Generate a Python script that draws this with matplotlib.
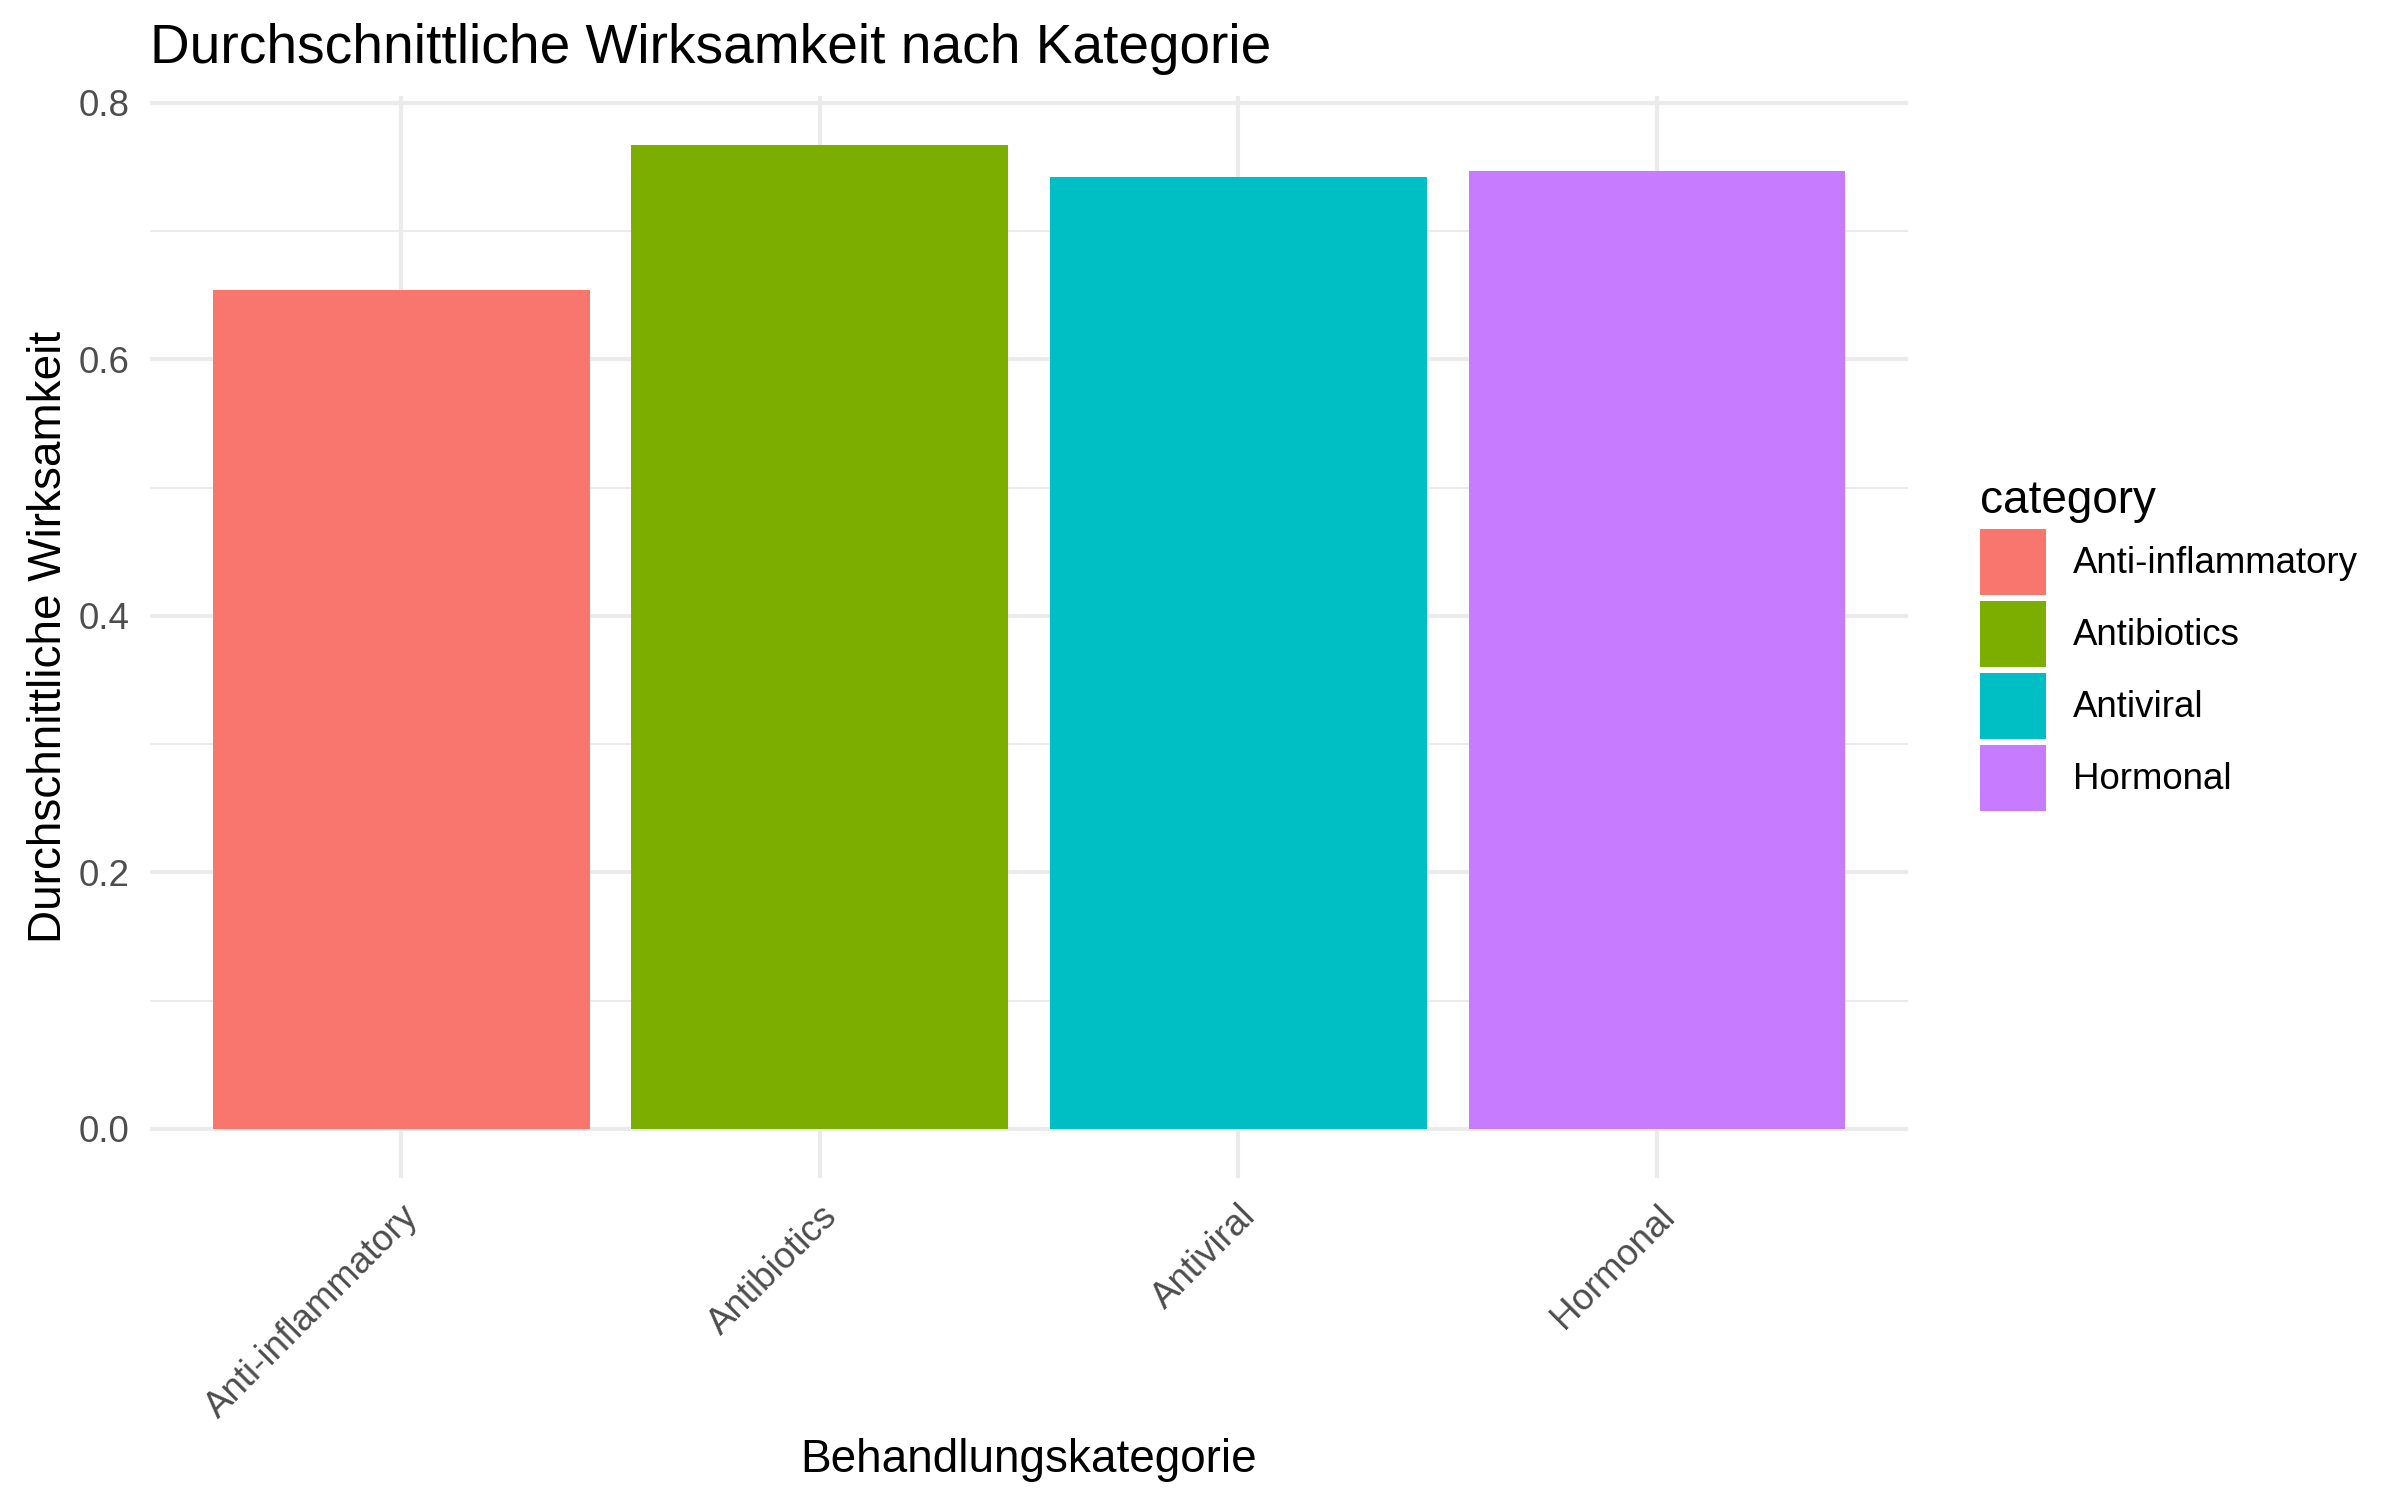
import matplotlib
matplotlib.use("Agg")
from matplotlib import pyplot as plt
from matplotlib.ticker import MultipleLocator

plt.rcParams['font.family'] = ['Liberation Sans', 'DejaVu Sans']

# data
categories = ["Anti-inflammatory", "Antibiotics", "Antiviral", "Hormonal"]
efficacy = [0.654, 0.767, 0.742, 0.747]
colors = ["#F8766D", "#7CAE00", "#00BFC4", "#C77CFF"]
y_ticks = [0.0, 0.2, 0.4, 0.6, 0.8]

fig = plt.figure(figsize=(8, 5), dpi=300)
ax = fig.add_axes([0.0625, 0.2147, 0.7325, 0.7213])

pos = list(range(1, len(categories) + 1))
bars = ax.bar(pos, efficacy, width=0.9, color=colors, zorder=2)

# ggplot-style expansion
top = max(efficacy) * 1.05
ax.set_xlim(0.4, len(categories) + 0.6)
ax.set_ylim(-max(efficacy) * 0.05, top)

ax.set_yticks(y_ticks)
ax.set_yticklabels([f"{v:.1f}" for v in y_ticks])
ax.yaxis.set_minor_locator(MultipleLocator(0.1))
ax.set_xticks(pos)
ax.set_xticklabels(categories, rotation=45, ha='right', va='top', rotation_mode='anchor')

# theme_minimal look
for s in ax.spines.values():
    s.set_visible(False)
ax.tick_params(axis='both', which='both', length=0, labelsize=8.8, labelcolor='#4D4D4D')
ax.tick_params(axis='y', pad=5)
ax.tick_params(axis='x', pad=5)
ax.grid(which='major', color='#EBEBEB', linewidth=1.0, zorder=0)
ax.grid(which='minor', axis='y', color='#EBEBEB', linewidth=0.5, zorder=0)
ax.set_axisbelow(True)

ax.set_title("Durchschnittliche Wirksamkeit nach Kategorie", loc='left', fontsize=13.2, pad=8)
ax.set_xlabel("Behandlungskategorie", fontsize=11, labelpad=3)
ax.set_ylabel("Durchschnittliche Wirksamkeit", fontsize=11, labelpad=1.8)

leg = ax.legend(bars, categories, title="category", loc='center left',
                bbox_to_anchor=(1980 / 2400, 0.570), bbox_transform=fig.transFigure,
                frameon=False, fontsize=8.8, title_fontsize=11, borderpad=0,
                handlelength=1.8, handleheight=2.4, labelspacing=0.16,
                handletextpad=0.74, borderaxespad=0)
leg._legend_box.align = "left"

fig.savefig("out.png", dpi=300)
